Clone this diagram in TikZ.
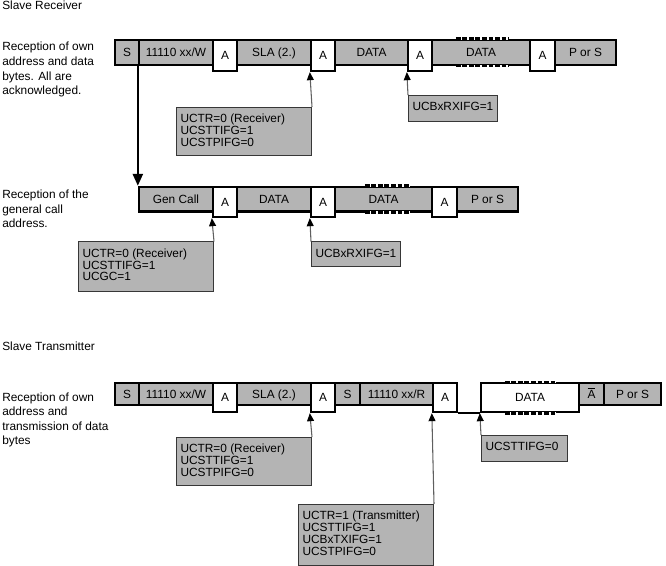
\documentclass[tikz,border=0pt]{standalone}
\usepackage{fontspec}
\setmainfont{Liberation Sans}
\usetikzlibrary{arrows.meta}
\newdimen\pxu \pxu=0.75pt
\definecolor{boxgrey}{RGB}{180,180,180}
\definecolor{annborder}{RGB}{55,55,55}
\definecolor{conngrey}{RGB}{95,95,95}
\tikzset{
  seg/.style={draw=black, line width=1.75pt, fill=boxgrey, inner sep=0pt,
    text height=6.4pt, text depth=0pt, font=\fontsize{8.9}{10}\selectfont},
  ackbox/.style={seg, fill=white},
  annot/.style={draw=annborder, line width=0.75pt, fill=boxgrey, inner xsep=3pt,
    inner ysep=0pt, anchor=north west, font=\fontsize{8.9}{8.85}\selectfont},
  conn/.style={draw=conngrey, line width=0.8pt,
    -{Triangle[length=6pt,width=5.2pt,color=black]}},
  bigarrow/.style={draw=black, line width=1.75pt, -{Triangle[length=9pt,width=7.5pt]}},
  lefttext/.style={anchor=base west, inner sep=0pt, font=\fontsize{8.9}{10.9}\selectfont},
  dashcover/.style={draw=white, line width=2pt},
  dashline/.style={draw=black, line width=2pt, dash pattern=on 3.6pt off 1.3pt},
  joinline/.style={draw=black, line width=1.75pt},
}
\newcommand\sgbox[7]{\node[#6, minimum width={(#3-#2)*0.75pt}, minimum height={(#5-#4)*0.75pt}] (#1) at ({(#2+#3)/2},{(#4+#5)/2}) {#7};}
\newcommand\annbox[6]{\node[annot, minimum width={(#3-#2)*0.75pt}, minimum height={(#5-#4)*0.75pt}] (#1) at (#2,#4) {\parbox[c][\dimexpr#5\pxu-#4\pxu\relax][t]{\dimexpr#3\pxu-#2\pxu-8\pxu\relax}{\rule{0pt}{15.3\pxu}#6}};}
\newcommand\dashedge[3]{%
  \draw[dashcover] ([xshift=#2\pxu]#1.north west) -- ([xshift=-#3\pxu]#1.north east);
  \draw[dashline] ([xshift=#2\pxu]#1.north west) -- ([xshift=-#3\pxu]#1.north east);
  \draw[dashcover] ([xshift=#2\pxu]#1.south west) -- ([xshift=-#3\pxu]#1.south east);
  \draw[dashline] ([xshift=#2\pxu]#1.south west) -- ([xshift=-#3\pxu]#1.south east);}
\begin{document}
\begin{tikzpicture}[x=0.75pt, y=-0.75pt]
\useasboundingbox (0,0) rectangle (666,566);

% left texts
\node[lefttext] (t1) at (2,10) {Slave Receiver};
\node[lefttext] (t2) at (2,51) {\parbox[t]{150\pxu}{\fontsize{8.9}{10.9}\selectfont Reception of own\\address and data\\bytes. All are\\acknowledged.}};
\node[lefttext] (t3) at (2,198.5) {\parbox[t]{150\pxu}{\fontsize{8.9}{10.9}\selectfont Reception of the\\general call\\address.}};
\node[lefttext] (t4) at (2,350.5) {Slave Transmitter};
\node[lefttext] (t5) at (2,401) {\parbox[t]{150\pxu}{\fontsize{8.9}{10.9}\selectfont Reception of own\\address and\\transmission of data\\bytes}};

% row 1
\sgbox{r1s}{115}{139}{40}{65}{seg}{S}
\sgbox{r1w}{139}{213}{40}{65}{seg}{11110 xx/W}
\sgbox{r1sla}{237}{311}{40}{65}{seg}{SLA (2.)}
\sgbox{r1d1}{335}{408}{40}{65}{seg}{DATA}
\sgbox{r1d2}{432}{530}{40}{65}{seg}{DATA}
\sgbox{r1p}{555}{616}{40}{65}{seg}{P or S}
\sgbox{r1a1}{213}{237}{40}{71}{ackbox}{A}
\sgbox{r1a2}{311}{335}{40}{71}{ackbox}{A}
\sgbox{r1a3}{408}{432}{40}{71}{ackbox}{A}
\sgbox{r1a4}{530}{555}{40}{71}{ackbox}{A}
\dashedge{r1d2}{25}{23}

% row 2
\sgbox{r2g}{139}{213}{187}{211.5}{seg}{Gen Call}
\sgbox{r2d1}{237}{311}{187}{211.5}{seg}{DATA}
\sgbox{r2d2}{335}{432}{187}{211.5}{seg}{DATA}
\sgbox{r2p}{457}{518}{187}{211.5}{seg}{P or S}
\sgbox{r2a1}{213}{237}{187}{217}{ackbox}{A}
\sgbox{r2a2}{311}{335}{187}{217}{ackbox}{A}
\sgbox{r2a3}{432}{457}{187}{217}{ackbox}{A}
\dashedge{r2d2}{31}{23}

% row 3
\sgbox{r3s1}{115}{139}{383}{405}{seg}{S}
\sgbox{r3w}{139}{213}{383}{405}{seg}{11110 xx/W}
\sgbox{r3sla}{237}{311}{383}{405}{seg}{SLA (2.)}
\sgbox{r3s2}{335}{360}{383}{405}{seg}{S}
\sgbox{r3r}{360}{433}{383}{405}{seg}{11110 xx/R}
\sgbox{r3na}{579}{604}{383}{405}{seg}{$\overline{\mbox{A}}$}
\sgbox{r3p}{604}{661}{383}{405}{seg}{P or S}
\sgbox{r3a1}{213}{237}{383}{412}{ackbox}{A}
\sgbox{r3a2}{311}{335}{383}{412}{ackbox}{A}
\sgbox{r3a3}{433}{457}{383}{412}{ackbox}{A}
\sgbox{r3d}{481}{579}{383}{412}{ackbox}{DATA}
\draw[joinline] (r3a3.south east) -- (r3d.south west);
\dashedge{r3d}{25}{24}

% big arrow
\draw[bigarrow] (r1w.south west) -- (r2g.north west);

% annotations
\annbox{b1}{176}{311}{107}{155}{UCTR=0 (Receiver)\\UCSTTIFG=1\\UCSTPIFG=0}
\annbox{b2}{408}{497}{95}{121}{UCBxRXIFG=1}
\annbox{b3}{78}{213}{241.5}{290.5}{UCTR=0 (Receiver)\\UCSTTIFG=1\\UCGC=1}
\annbox{b4}{311}{400}{241.5}{266}{UCBxRXIFG=1}
\annbox{b5}{176}{311}{437}{485}{UCTR=0 (Receiver)\\UCSTTIFG=1\\UCSTPIFG=0}
\annbox{b6}{481}{567}{435}{461}{UCSTTIFG=0}
\annbox{b7}{298}{433}{504}{565}{UCTR=1 (Transmitter)\\UCSTTIFG=1\\UCBxTXIFG=1\\UCSTPIFG=0}

\draw[conn] (b1.north east) -- (r1a2.south west);
\draw[conn] (b2.north west) -- (r1a3.south west);
\draw[conn] (b3.north east) -- (r2a1.south west);
\draw[conn] (b4.north west) -- (r2a2.south west);
\draw[conn] (b5.north east) -- (r3a2.south west);
\draw[conn] (b6.north west) -- (r3d.south west);
\draw[conn] (b7.north east) -- (r3a3.south west);
\end{tikzpicture}
\end{document}
